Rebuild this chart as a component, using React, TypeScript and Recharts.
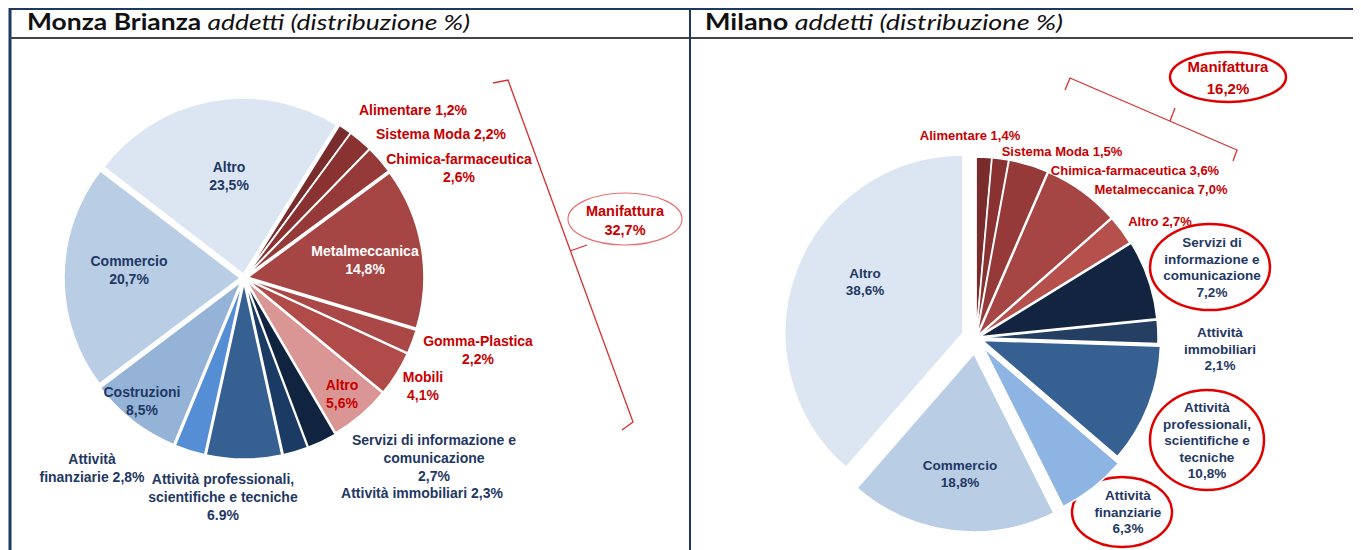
import React from "react";
import { PieChart, Pie, Cell, Sector, Customized } from "recharts";

// Monza Brianza - addetti (distribuzione %)
const monzaSettori = [
  "Alimentare",
  "Sistema Moda",
  "Chimica-farmaceutica",
  "Metalmeccanica",
  "Gomma-Plastica",
  "Mobili",
  "Altro manifattura",
  "Servizi di informazione e comunicazione",
  "Attività immobiliari",
  "Attività professionali, scientifiche e tecniche",
  "Attività finanziarie",
  "Costruzioni",
  "Commercio",
  "Altro",
];
const monzaQuote = [1.2, 2.2, 2.6, 14.8, 2.2, 4.1, 5.6, 2.7, 2.3, 6.9, 2.8, 8.5, 20.7, 23.5];
const monzaEtichette = [
  "Alimentare {v}",
  "Sistema Moda {v}",
  "Chimica-farmaceutica\n{v}",
  "Metalmeccanica\n{v}",
  "Gomma-Plastica\n{v}",
  "Mobili\n{v}",
  "Altro\n{v}",
  "Servizi di informazione e\ncomunicazione\n{v}",
  "Attività immobiliari {v}",
  "Attività professionali,\nscientifiche e tecniche\n{v.}",
  "Attività\nfinanziarie {v}",
  "Costruzioni\n{v}",
  "Commercio\n{v}",
  "Altro\n{v}",
];

// Milano - addetti (distribuzione %)
const milanoSettori = [
  "Alimentare",
  "Sistema Moda",
  "Chimica-farmaceutica",
  "Metalmeccanica",
  "Altro manifattura",
  "Servizi di informazione e comunicazione",
  "Attività immobiliari",
  "Attività professionali, scientifiche e tecniche",
  "Attività finanziarie",
  "Commercio",
  "Altro",
];
const milanoQuote = [1.4, 1.5, 3.6, 7.0, 2.7, 7.2, 2.1, 10.8, 6.3, 18.8, 38.6];
const milanoEtichette = [
  "Alimentare {v}",
  "Sistema Moda {v}",
  "Chimica-farmaceutica {v}",
  "Metalmeccanica {v}",
  "Altro {v}",
  "Servizi di\ninformazione e\ncomunicazione\n{v}",
  "Attività\nimmobiliari\n{v}",
  "Attività\nprofessionali,\nscientifiche e\ntecniche\n{v}",
  "Attività\nfinanziarie\n{v}",
  "Commercio\n{v}",
  "Altro\n{v}",
];

const manifatturaMonza = "32,7%";
const manifatturaMilano = "16,2%";

// styling
const RED = "#C80000";
const NAVY = "#1F3864";
const monzaColori = ["#7A2B2B", "#8A3232", "#963A39", "#A64644", "#A94846", "#B04B49", "#DA9694", "#11243F", "#1B3A64", "#365F92", "#558ED5", "#95B3D7", "#B9CDE5", "#DCE6F2"];
const monzaTesto = [RED, RED, RED, "#FFFFFF", RED, RED, RED, NAVY, NAVY, NAVY, NAVY, NAVY, NAVY, NAVY];
const monzaEsplodi = [4, 4, 4, 4, 4, 4, 4, 5, 5, 5, 5, 5, 4, 4];
// label anchor, relative to pie centre (first line)
const monzaPosEtichette: [number, number][] = [
  [169, -168], [197, -144], [215, -119], [121, -27], [234, 63], [179, 99], [98, 107],
  [190, 162], [178, 215], [-21, 201], [-152, 181], [-102, 114], [-115, -17], [-15, -111],
];

const milanoColori = ["#7A2B2B", "#8A3232", "#963A39", "#A64644", "#B5504D", "#12243F", "#243F61", "#365F92", "#8DB4E2", "#B9CDE5", "#DCE6F2"];
const milanoTesto = [RED, RED, RED, RED, RED, NAVY, NAVY, NAVY, NAVY, NAVY, NAVY];
const milanoEsplodi = [3, 3, 3, 3, 3, 4, 4, 7, 12, 16, 14];
const milanoPosEtichette: [number, number][] = [
  [-6, -203], [86, -187], [159, -168], [185, -149], [184, -117], [236, -96],
  [244, -6], [231, 69], [152, 157], [-16, 127], [-111, -65],
];

const W = 1345;
const H = 542;
const LABEL_FONT = "'Liberation Sans', Arial, sans-serif";
const TITLE_FONT = "Lato, 'Open Sans', sans-serif";

const monzaData = monzaSettori.map((name, idx) => ({ name, idx, value: monzaQuote[idx] }));
const milanoData = milanoSettori.map((name, idx) => ({ name, idx, value: milanoQuote[idx] }));

const RADIAN = Math.PI / 180;
const fmt = (tpl: string, v: number) =>
  tpl.replace("{v.}", v.toFixed(1) + "%").replace("{v}", v.toFixed(1).replace(".", ",") + "%");

function explodedShape(offsets: number[]) {
  return (props: any) => {
    const d = offsets[props.payload?.idx ?? props.idx ?? 0] ?? 0;
    const dx = d * Math.cos(-props.midAngle * RADIAN);
    const dy = d * Math.sin(-props.midAngle * RADIAN);
    return <Sector {...props} cx={props.cx + dx} cy={props.cy + dy} />;
  };
}

function makeLabel(
  tpls: string[],
  values: number[],
  pos: [number, number][],
  colors: string[],
  size: (i: number) => number,
  lineH: number
) {
  return (props: any) => {
    const { cx, cy, index } = props;
    const [dx, dy] = pos[index];
    const lines = fmt(tpls[index], values[index]).split("\n");
    const x = cx + dx;
    return (
      <text
        x={x}
        y={cy + dy}
        textAnchor="middle"
        dominantBaseline="central"
        fill={colors[index]}
        fontFamily={LABEL_FONT}
        fontSize={size(index)}
        fontWeight="bold"
      >
        {lines.map((l, i) => (
          <tspan key={i} x={x} dy={i === 0 ? 0 : lineH}>
            {l}
          </tspan>
        ))}
      </text>
    );
  };
}

// frame, titles and the red annotations
const Decorations = () => (
  <g>
    {/* frame */}
    <line x1={2} y1={1} x2={W} y2={1} stroke={NAVY} strokeWidth={2} />
    <line x1={2} y1={0} x2={2} y2={H} stroke={NAVY} strokeWidth={3} />
    <line x1={2} y1={30} x2={W} y2={30} stroke="#444" strokeWidth={2} />
    <line x1={682} y1={0} x2={682} y2={H} stroke={NAVY} strokeWidth={2} />
    <text x={19} y={22} fontFamily={TITLE_FONT} fontSize={22} fill="#111" textLength={443} lengthAdjust="spacingAndGlyphs">
      <tspan fontWeight="bold">Monza Brianza</tspan>
      <tspan fontStyle="italic"> addetti (distribuzione %)</tspan>
    </text>
    <text x={697} y={22} fontFamily={TITLE_FONT} fontSize={22} fill="#111" textLength={358} lengthAdjust="spacingAndGlyphs">
      <tspan fontWeight="bold">Milano</tspan>
      <tspan fontStyle="italic"> addetti (distribuzione %)</tspan>
    </text>

    {/* Monza bracket */}
    <polyline points="485,75 500,72 625,414 614,422" fill="none" stroke="#D9302E" strokeWidth={1.3} />
    <line x1={562} y1={243} x2={579} y2={237} stroke="#D9302E" strokeWidth={1.3} />
    <ellipse cx={617} cy={211} rx={57} ry={26} fill="#fff" stroke="#E8706E" strokeWidth={1.2} />
    <text x={617} y={203} textAnchor="middle" dominantBaseline="central" fontFamily={LABEL_FONT} fontSize={14.5} fontWeight="bold" fill={RED}>
      Manifattura
      <tspan x={617} dy={19}>{manifatturaMonza}</tspan>
    </text>

    {/* Milano bracket */}
    <polyline points="1057,82 1062,70 1229,142 1225,153" fill="none" stroke="#D9302E" strokeWidth={1.3} />
    <line x1={1162} y1={113} x2={1167} y2={100} stroke="#D9302E" strokeWidth={1.3} />
    <ellipse cx={1220} cy={69} rx={58} ry={25} fill="#fff" stroke="#E00000" strokeWidth={2.5} />
    <text x={1220} y={58} textAnchor="middle" dominantBaseline="central" fontFamily={LABEL_FONT} fontSize={15} fontWeight="bold" fill={RED}>
      Manifattura
      <tspan x={1220} dy={22}>{manifatturaMilano}</tspan>
    </text>

    <ellipse cx={1202} cy={259} rx={60} ry={43} fill="none" stroke="#E00000" strokeWidth={2.5} />
    <ellipse cx={1199} cy={432} rx={57} ry={50} fill="none" stroke="#E00000" strokeWidth={2.5} />
    <ellipse cx={1114} cy={504} rx={50} ry={35} fill="none" stroke="#E00000" strokeWidth={2.5} />
  </g>
);

export default function App() {
  return (
    <div style={{ width: W, height: H, background: "#fff" }}>
      <PieChart width={W} height={H} margin={{ top: 0, right: 0, bottom: 0, left: 0 }}>
        <Customized component={Decorations} />
        <Pie
          data={monzaData}
          dataKey="value"
          nameKey="name"
          cx={236}
          cy={270}
          outerRadius={176}
          startAngle={58}
          endAngle={-302}
          stroke="#fff"
          strokeWidth={1.5}
          shape={explodedShape(monzaEsplodi)}
          label={makeLabel(monzaEtichette, monzaQuote, monzaPosEtichette, monzaTesto, () => 14, 18)}
          labelLine={false}
          isAnimationActive={false}
        >
          {monzaData.map((d) => (
            <Cell key={d.idx} fill={monzaColori[d.idx]} />
          ))}
        </Pie>
        <Pie
          data={milanoData}
          dataKey="value"
          nameKey="name"
          cx={968}
          cy={330}
          outerRadius={178}
          startAngle={90}
          endAngle={-270}
          stroke="#fff"
          strokeWidth={1.5}
          shape={explodedShape(milanoEsplodi)}
          label={makeLabel(milanoEtichette, milanoQuote, milanoPosEtichette, milanoTesto, (i) => (i < 5 ? 13 : 13.5), 16.5)}
          labelLine={false}
          isAnimationActive={false}
        >
          {milanoData.map((d) => (
            <Cell key={d.idx} fill={milanoColori[d.idx]} />
          ))}
        </Pie>
      </PieChart>
    </div>
  );
}
